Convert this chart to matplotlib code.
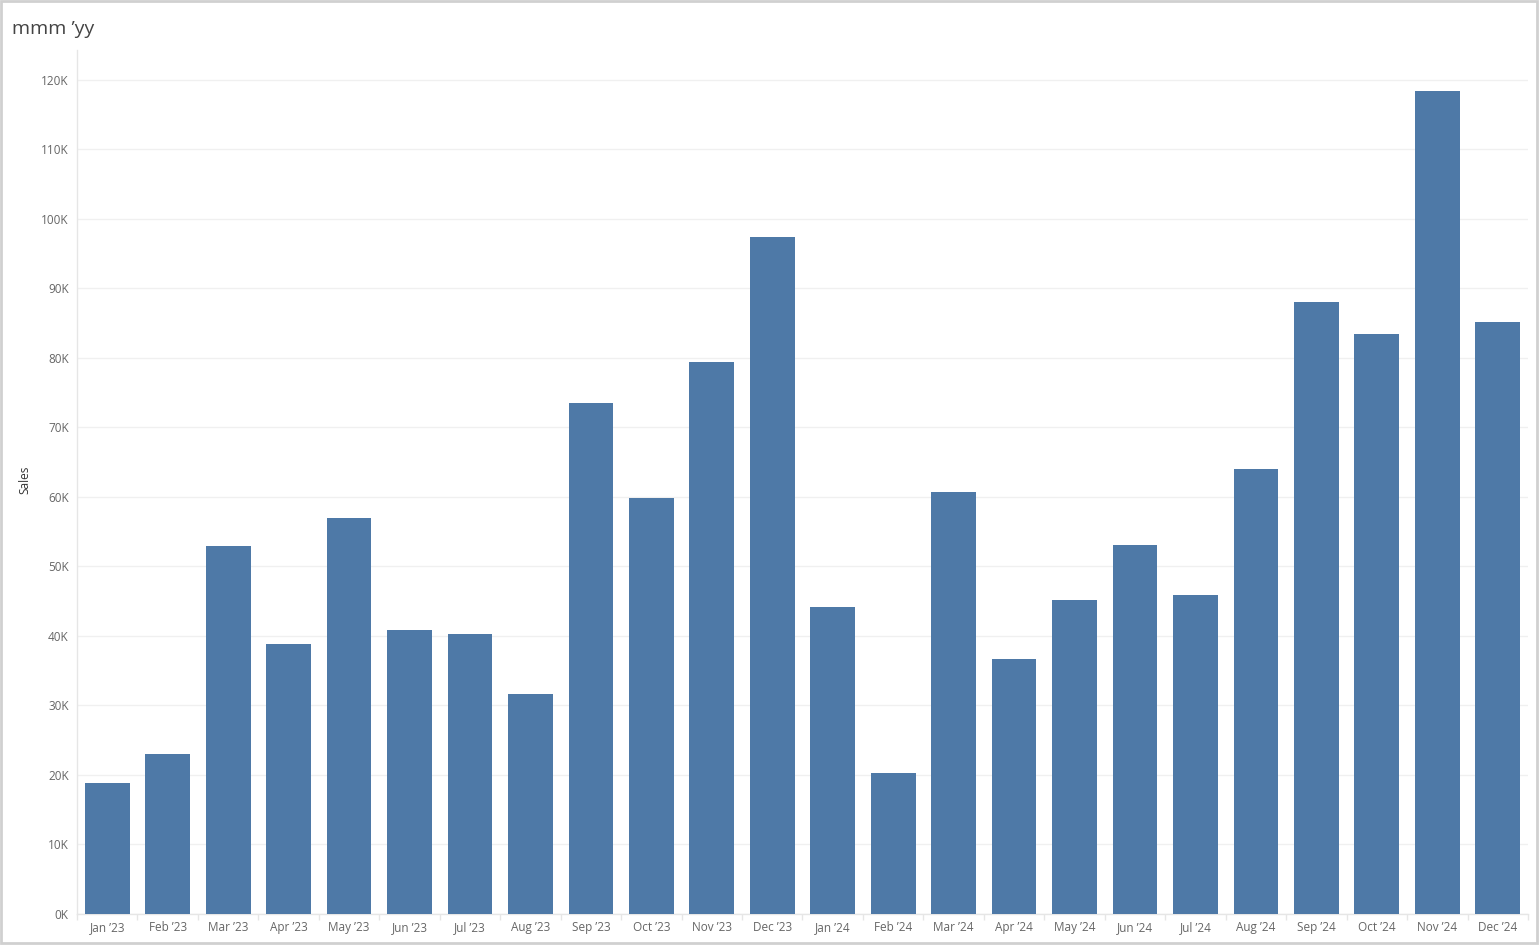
import numpy as np
import matplotlib.pyplot as plt
from matplotlib.patches import Rectangle

months = ['Jan', 'Feb', 'Mar', 'Apr', 'May', 'Jun', 'Jul', 'Aug', 'Sep', 'Oct', 'Nov', 'Dec']
labels = [f"{m} \u201923" for m in months] + [f"{m} \u201924" for m in months]
sales = [18.85, 23.0, 52.9, 38.8, 57.0, 40.9, 40.3, 31.7, 73.5, 59.9, 79.4, 97.4,
         44.2, 20.3, 60.7, 36.7, 45.2, 53.1, 45.9, 64.0, 88.1, 83.5, 118.4, 85.2]
sales = np.array(sales) * 1000

plt.rcParams['font.family'] = ['Open Sans', 'DejaVu Sans']

fig = plt.figure(figsize=(15.4, 9.46), dpi=100)
ax = fig.add_axes([77 / 1540, 32 / 946, (1528 - 77) / 1540, (914 - 50) / 946])

x = np.arange(len(sales))
ax.bar(x, sales, width=0.74, color='#4e79a7', zorder=3)

ax.set_xlim(-0.5, len(sales) - 0.5)
ax.set_ylim(0, 124300)
ax.set_yticks(np.arange(0, 120001, 10000))
ax.set_yticklabels([f"{int(v / 1000)}K" for v in np.arange(0, 120001, 10000)],
                   fontsize=8.5, color='#666666')
ax.set_xticks(x)
ax.set_xticklabels(labels, fontsize=8.5, color='#666666')
ax.set_xticks(np.arange(-0.5, len(sales)), minor=True)
ax.tick_params(axis='x', which='major', length=0, pad=5)
ax.tick_params(axis='x', which='minor', length=4, color='#e6e6e6', width=1)
ax.tick_params(axis='y', length=0, pad=6)
ax.grid(axis='y', color='#f0f0f0', linewidth=1, zorder=0)

for side in ['top', 'right']:
    ax.spines[side].set_visible(False)
for side in ['left', 'bottom']:
    ax.spines[side].set_color('#e6e6e6')
    ax.spines[side].set_linewidth(1)

ax.set_ylabel('Sales', fontsize=8.5, color='#333333')
ax.yaxis.set_label_coords(-0.0317, 0.502)

fig.text(12 / 1540, 1 - 29 / 946, "mmm \u2019yy", fontsize=14, color='#444444',
         ha='left', va='center')

fig.patches.append(Rectangle((0.5 / 1540, 3 / 946), 1536 / 1540, 942 / 946,
                             transform=fig.transFigure, fill=False,
                             edgecolor='#d0d0d0', linewidth=2))

fig.savefig('out.png', dpi=100)
